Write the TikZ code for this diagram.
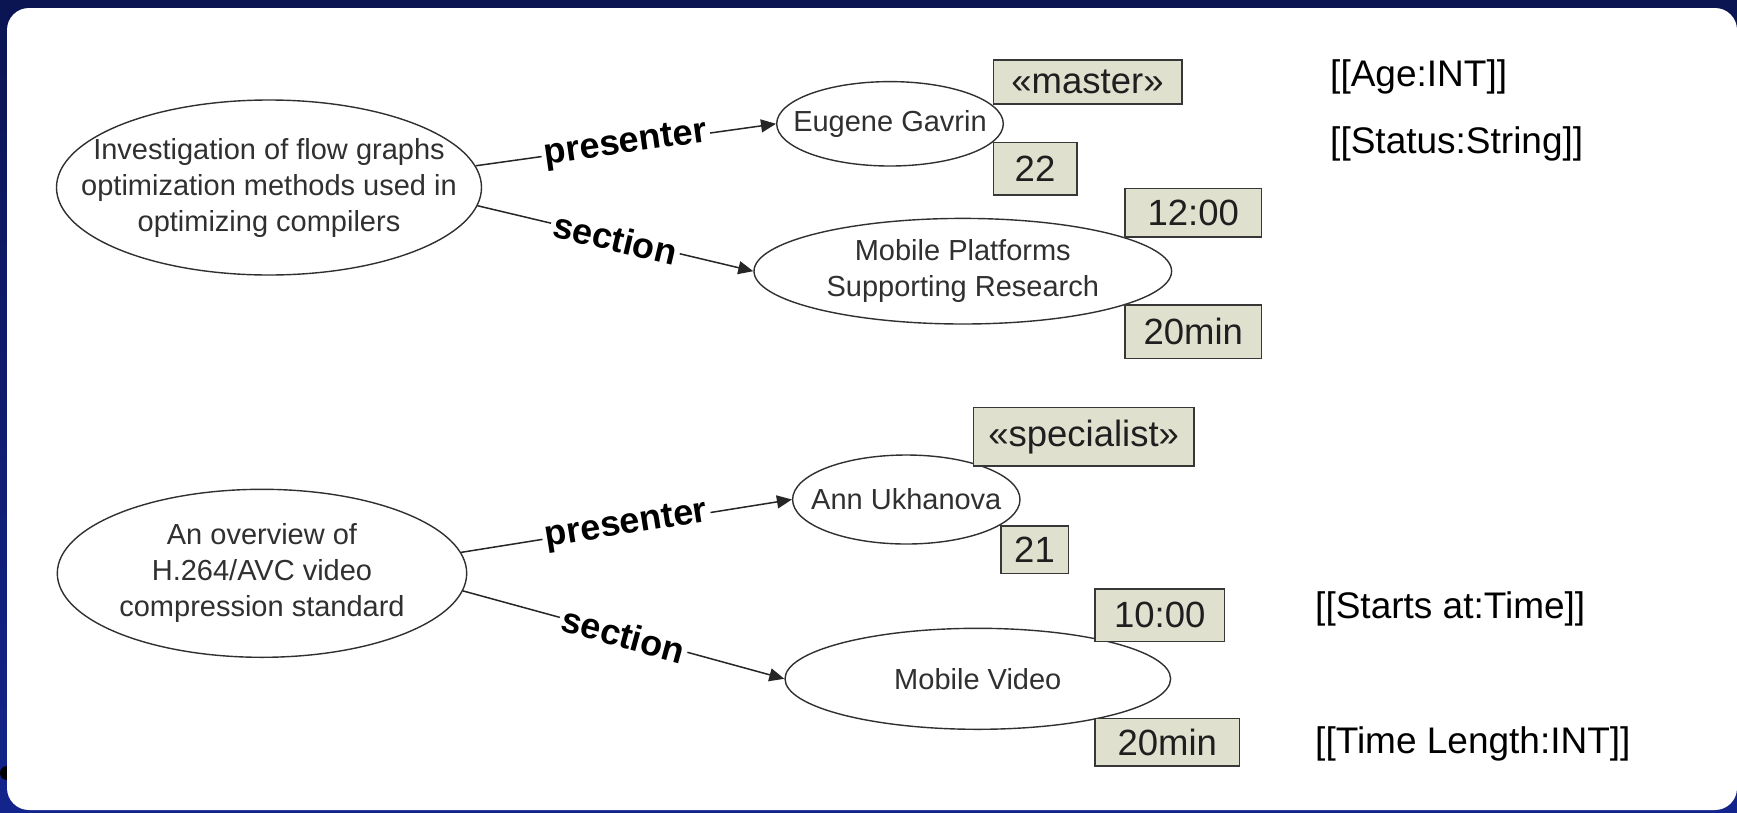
\documentclass[tikz,border=0pt]{standalone}
\usepackage{fontspec}
\setmainfont{Liberation Sans}
\usetikzlibrary{shapes.geometric,arrows.meta}
\definecolor{navytop}{RGB}{11,21,82}
\definecolor{navybot}{RGB}{19,36,140}
\definecolor{attrfill}{RGB}{223,224,206}
\definecolor{boxedge}{RGB}{55,55,55}
\definecolor{inkgray}{RGB}{48,48,48}
\begin{document}
\begin{tikzpicture}[x=1pt,y=-1pt,
  topic/.style={ellipse, draw=inkgray, line width=1.4pt, inner sep=0pt},
  topictext/.style={align=center, text=inkgray, inner sep=0pt,
    font=\fontsize{29}{36}\selectfont},
  attr/.style={rectangle, draw=boxedge, fill=attrfill, line width=1.6pt,
    inner sep=0pt, text=black!88, font=\fontsize{36.5}{42}\selectfont},
  rel/.style={draw=black!85, line width=1.5pt, -{Triangle[length=15pt,width=13pt]}},
  rellabel/.style={sloped, fill=white, inner sep=3pt, text=black,
    font=\bfseries\fontsize{36}{42}\selectfont},
  typenote/.style={anchor=base west, inner sep=0pt, text=black,
    font=\fontsize{37}{44}\selectfont}
]
\useasboundingbox (0,0) rectangle (1737,812);
% slide background and white panel
\fill[top color=navytop, bottom color=navybot] (0,0) rectangle (1737,812);
\fill[black] (7,773) circle (7);
\fill[white, rounded corners=22pt] (7,8) rectangle (1737,810);

% first talk
\node[topic, minimum width=425, minimum height=175,
  label={[topictext]center:{Investigation of flow graphs\\optimization methods used in\\optimizing compilers}}]
  (A) at (269,187.5) {};
\node[topic, minimum width=226.6, minimum height=84.4,
  label={[topictext]center:{Eugene Gavrin}}] (B) at (890,123.8) {};
\node[topic, minimum width=417.6, minimum height=105.6,
  label={[topictext]center:{Mobile Platforms\\Supporting Research}}] (C) at (962.8,271.2) {};

\draw[rel] (A.6) -- node[rellabel] (pA) {presenter} (B.west);
\draw[rel] (A.-5) -- node[rellabel] (sA) {section} (C.west);

\node[attr, minimum width=188.4, minimum height=44] (stB) at (1087.5,82) {«master»};
\node[attr, minimum width=83.4, minimum height=52.3] (agB) at (1035,168.8) {22};
\node[attr, minimum width=136.7, minimum height=48.4] (tmC) at (1193.3,212.5) {12:00};
\node[attr, minimum width=136.7, minimum height=53.3] (lnC) at (1193.3,331.7) {20min};

% second talk
\node[topic, minimum width=409.4, minimum height=168,
  label={[topictext]center:{An overview of\\H.264/AVC video\\compression standard}}]
  (D) at (262,573.3) {};
\node[topic, minimum width=227.4, minimum height=89,
  label={[topictext]center:{Ann Ukhanova}}] (E) at (906.3,499.5) {};
\node[topic, minimum width=385.6, minimum height=101,
  label={[topictext]center:{Mobile Video}}] (F) at (977.8,678.8) {};

\draw[rel] (D.6) -- node[rellabel] (pD) {presenter} (E.west);
\draw[rel] (D.-5) -- node[rellabel] (sD) {section} (F.west);

\node[attr, minimum width=220.7, minimum height=58.7] (stE) at (1083.7,436.7) {«specialist»};
\node[attr, minimum width=67.6, minimum height=47.3] (agE) at (1034.5,549.7) {21};
\node[attr, minimum width=129.3, minimum height=52.7] (tmF) at (1159.7,615.3) {10:00};
\node[attr, minimum width=144.3, minimum height=47.7] (lnF) at (1167.2,742.2) {20min};

% attribute types
\node[typenote] (tAge) at (1330,86) {[[Age:INT]]};
\node[typenote] (tStatus) at (1330,153.3) {[[Status:String]]};
\node[typenote] (tStart) at (1315,618.3) {[[Starts at:Time]]};
\node[typenote] (tLen) at (1315,753.3) {[[Time Length:INT]]};
\end{tikzpicture}
\end{document}
